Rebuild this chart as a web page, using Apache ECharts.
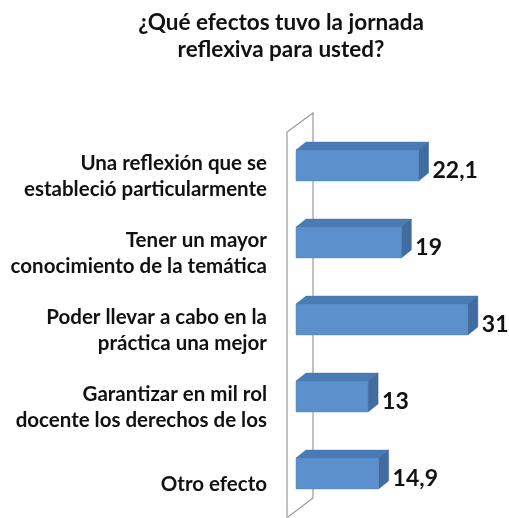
<!DOCTYPE html>
<html><head><meta charset="utf-8">
<script src="https://cdn.jsdelivr.net/npm/echarts@6/dist/echarts.min.js"></script>
<style>html,body{margin:0;padding:0;background:#fff}#c{width:509px;height:518px}</style>
</head><body><div id="c"></div>
<script>
const categories = [
  'Una reflexión que se\nestableció particularmente',
  'Tener un mayor\nconocimiento de la temática',
  'Poder llevar a cabo en la\npráctica una mejor',
  'Garantizar en mil rol\ndocente los derechos de los',
  'Otro efecto'
];
const values = [22.1, 19, 31, 13, 14.9];
const titleText = '¿Qué efectos tuvo la jornada\nreflexiva para usted?';

const chart = echarts.init(document.getElementById('c'));
const FONT = 'Lato, "Open Sans", sans-serif';
const DX = 10, DY = -8;

function renderBar(params, api) {
  const idx = api.value(0);
  const v = api.value(1);
  const p0 = api.coord([0, idx]);
  const p1 = api.coord([v, idx]);
  const h = api.size([0, 1])[1] * 0.40;
  const x0 = p0[0], x1 = p1[0], yc = p0[1];
  const yt = yc - h / 2, yb = yc + h / 2;
  return {
    type: 'group',
    children: [
      {type: 'polygon', shape: {points: [[x0, yt], [x0 + DX, yt + DY], [x1 + DX, yt + DY], [x1, yt]]},
       style: {fill: '#4a7bb5', stroke: '#4373ab', lineWidth: 0.5}},
      {type: 'polygon', shape: {points: [[x1, yt], [x1 + DX, yt + DY], [x1 + DX, yb + DY], [x1, yb]]},
       style: {fill: '#416c9f', stroke: '#3b6494', lineWidth: 0.5}},
      {type: 'rect', shape: {x: x0, y: yt, width: x1 - x0, height: h},
       style: {fill: '#5b90cc', stroke: '#5084bf', lineWidth: 0.5}},
      {type: 'text', x: x1 + DX + 4, y: yc + 5,
       style: {text: String(v).replace('.', ','), fill: '#111', font: 'bold 23px ' + FONT,
               verticalAlign: 'middle', align: 'left'}}
    ]
  };
}

function renderWall(params, api) {
  const cs = params.coordSys;
  const x0 = cs.x, top = cs.y, bottom = cs.y + cs.height;
  const fx = x0 - 9, bx = x0 + 17;
  return {
    type: 'polyline',
    shape: {points: [[fx, bottom + 6], [fx, top + 5], [bx, top - 14], [bx, bottom - 14], [fx + 1, bottom + 5]]},
    style: {stroke: '#9a9a9a', lineWidth: 1.2, fill: null}
  };
}

chart.setOption({
  animation: false,
  backgroundColor: '#fff',
  title: {
    text: titleText, left: 276, top: 4, textAlign: 'center',
    textStyle: {fontFamily: FONT, fontSize: 22.5, fontWeight: 'bold', color: '#111', lineHeight: 27}
  },
  grid: {left: 296, right: 19, top: 127, bottom: 6, containLabel: false},
  xAxis: {type: 'value', min: 0, max: 35, show: false},
  yAxis: {
    type: 'category', data: categories, inverse: true,
    axisLine: {show: false}, axisTick: {show: false}, splitLine: {show: false},
    axisLabel: {
      margin: 29, align: 'right',
      formatter: function (val) {
        const lines = val.split('\n');
        return lines.map((l, i) => (i === 0 ? '{p|' : '{n|') + l + '}').join('\n');
      },
      rich: {
        p: {fontFamily: FONT, fontSize: 20.5, fontWeight: 'bold', color: '#111', lineHeight: 48, padding: [22, 0, 0, 0]},
        n: {fontFamily: FONT, fontSize: 20.5, fontWeight: 'bold', color: '#111', lineHeight: 26}
      }
    }
  },
  series: [
    {type: 'custom', renderItem: renderWall, data: [[0, 0]], z: 1, silent: true},
    {type: 'custom', renderItem: renderBar, data: values.map((v, i) => [i, v]), z: 2,
     encode: {x: 1, y: 0}}
  ]
});
</script></body></html>
